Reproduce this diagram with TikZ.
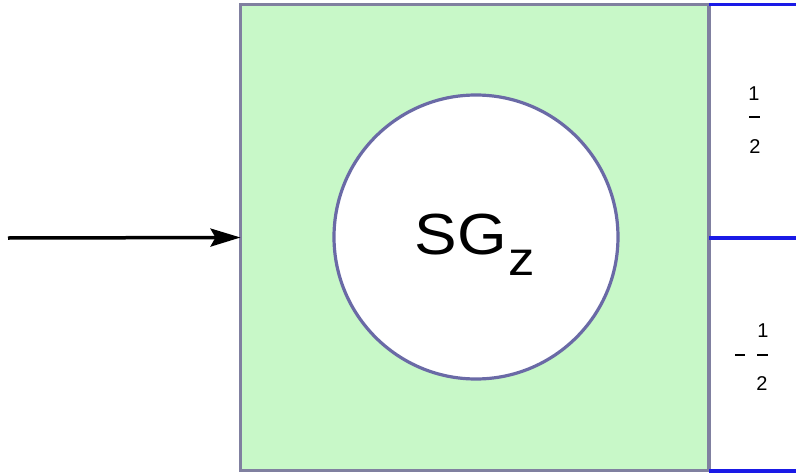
\documentclass[tikz,border=0pt]{standalone}
\usepackage{fontspec}
\usepackage{graphicx}
\setmainfont{Liberation Sans}
\usetikzlibrary{arrows.meta}
\definecolor{boxfill}{HTML}{C8F8C8}
\definecolor{boxline}{HTML}{8080A0}
\definecolor{circline}{HTML}{6A6AA6}
\definecolor{blueline}{HTML}{1A1AE6}
\tikzset{
  frame/.style={draw=boxline, fill=boxfill, line width=3.5pt, minimum width=468.5pt, minimum height=466pt, inner sep=0pt, outer sep=0pt},
  core/.style={circle, draw=circline, fill=white, line width=3.2pt, minimum size=284pt, inner sep=0pt},
  outline/.style={draw=blueline, line width=3.5pt},
  feed/.style={line width=3.5pt, -{Stealth[length=30pt,width=18pt,inset=5pt]}},
  digit/.style={inner sep=0pt, font=\fontsize{20pt}{20pt}\selectfont},
  fracbar/.style={line width=2pt}
}
\begin{document}
\begin{tikzpicture}[x=1pt,y=-1pt]
\useasboundingbox (0,0) rectangle (796,474);
\node[frame] (box) at (474.75,237.5) {};
\node[core] (sg) at (476,237) {};
\node[inner sep=0pt, anchor=base] (lbl) at (475,254) {\scalebox{1.1}[1]{\fontsize{58pt}{58pt}\selectfont SG\hspace{2pt}\raisebox{-21pt}{\fontsize{48pt}{48pt}\selectfont z}}};
\coordinate (src) at (8,238);
\draw[feed] (src) -- (box.west);
\coordinate (tr) at (796,4.5);
\coordinate (mr) at (796,238);
\coordinate (br) at (796,471);
\coordinate (ml) at (box.east |- mr);
\draw[outline] (box.north east |- tr) -- (tr);
\draw[outline] (ml) -- (mr);
\draw[outline] (box.south east |- br) -- (br);
% upper fraction
\node[digit] (n1) at (754,94) {1};
\node[digit] (d1) at (755,147) {2};
\coordinate (b1l) at (749,117);
\coordinate (b1r) at (760,117);
\draw[fracbar] (b1l) -- (b1r);
% lower fraction
\node[digit] (n2) at (763,331) {1};
\node[digit] (d2) at (762,384) {2};
\coordinate (b2l) at (757,355);
\coordinate (b2r) at (768,355);
\draw[fracbar] (b2l) -- (b2r);
\coordinate (m2l) at (735,355);
\coordinate (m2r) at (745,355);
\draw[fracbar] (m2l) -- (m2r);
\end{tikzpicture}
\end{document}
